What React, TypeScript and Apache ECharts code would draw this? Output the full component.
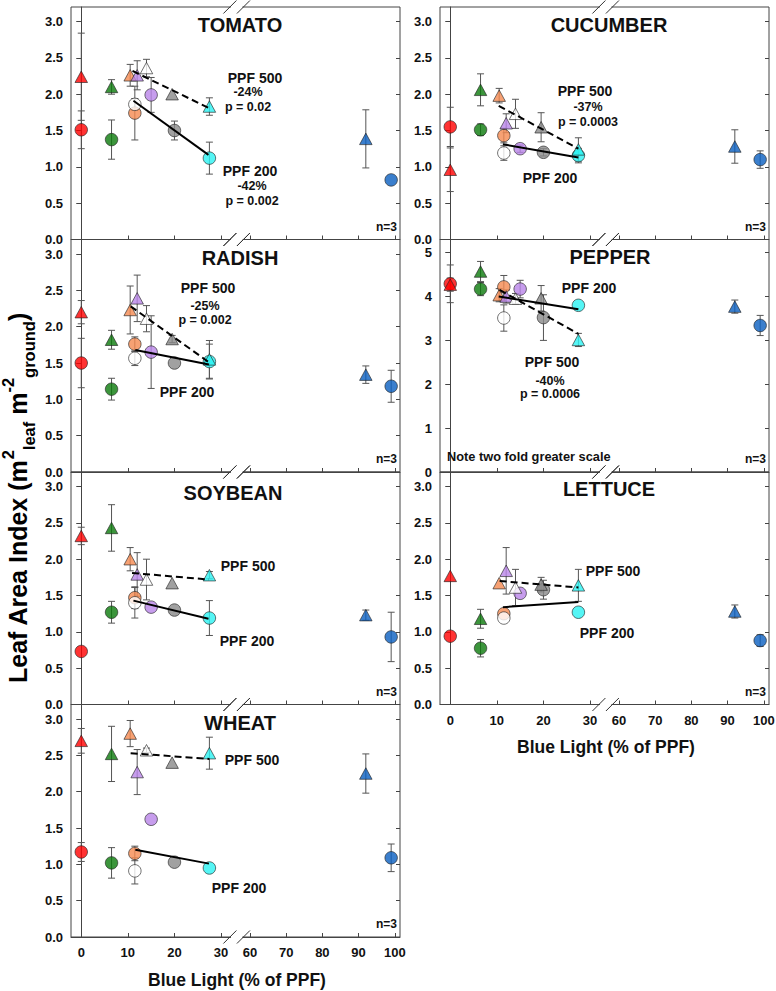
import React, { useEffect, useRef } from "react";
import * as echarts from "echarts";

const FONT = "'Liberation Sans', Arial, Helvetica, sans-serif";
const AXIS = "#444";
const INK = "#111";

// ---- broken x axis (0-30 | 60-100) ----
const BREAK_START = 36.2;
const RIGHT_SCALE = 0.777;
const dx = (x: number) => (x <= 30 ? x : BREAK_START + (x - 60) * RIGHT_SCALE);
const undx = (d: number) => (d <= 31 ? Math.round(d) : Math.round(60 + (d - BREAK_START) / RIGHT_SCALE));
const xTicks = [0, 10, 20, 30, 60, 70, 80, 90, 100];

// ---- treatments: triangles = PPF 500, circles = PPF 200 ----
const triColors = ["#ff0000", "#0b7a0b", "#f58a50", "#b985e8", "#ffffff", "#8a8a8a", "#2af2f2", "#0a5fc0"];
const triX = [0, 6.5, 10.5, 12, 14, 19.5, 27.5, 92];
const circColors = ["#ff0000", "#0b7a0b", "#f58a50", "#ffffff", "#b985e8", "#8a8a8a", "#2af2f2", "#0a5fc0"];
const circX = [0, 6.5, 11.5, 11.5, 15, 20, 27.5, 99];

// TOMATO
const tomatoTri = [2.24, 2.1, 2.26, 2.26, 2.36, 2.0, 1.83, 1.385];
const tomatoTriErr = [0.6, 0.1, 0.15, 0.2, 0.12, 0, 0.12, 0.4];
const tomatoCirc = [1.51, 1.375, 1.74, 1.86, 1.99, 1.5, 1.12, 0.82];
const tomatoCircErr = [0.26, 0.27, 0.37, 0.08, 0.24, 0.13, 0.22, 0];
const tomatoFit500 = [11, 2.32, 27.4, 1.81];
const tomatoFit200 = [11.2, 1.91, 27.3, 1.165];

// CUCUMBER
const cucumberTri = [0.96, 2.06, 1.98, 1.6, 1.73, 1.545, 1.24, 1.28];
const cucumberTriErr = [0.3, 0.22, 0.1, 0.13, 0.2, 0.2, 0.16, 0.23];
const cucumberCirc = [1.55, 1.51, 1.43, 1.19, 1.25, 1.2, 1.155, 1.1];
const cucumberCircErr = [0.27, 0.08, 0.1, 0.1, 0.05, 0.05, 0.1, 0.12];
const cucumberFit500 = [10.4, 1.84, 27.5, 1.25];
const cucumberFit200 = [11.3, 1.31, 27.5, 1.13];

// RADISH
const radishTri = [2.2, 1.82, 2.23, 2.39, 2.11, 1.83, 1.55, 1.34];
const radishTriErr = [0.16, 0.13, 0.33, 0.32, 0.18, 0.05, 0.26, 0.12];
const radishCirc = [1.5, 1.14, 1.76, 1.565, 1.65, 1.5, 1.52, 1.18];
const radishCircErr = [0.34, 0.15, 0.1, 0.1, 0.5, 0, 0.24, 0.22];
const radishFit500 = [10.6, 2.28, 27.4, 1.51];
const radishFit200 = [11.6, 1.68, 27.4, 1.48];

// PEPPER
const pepperTri = [4.27, 4.57, 4.03, 4.0, 3.95, 3.96, 3.01, 3.77];
const pepperTriErr = [0.15, 0.23, 0.15, 0.15, 0.12, 0.29, 0.15, 0.15];
const pepperCirc = [4.29, 4.17, 4.22, 3.51, 4.17, 3.52, 3.8, 3.34];
const pepperCircErr = [0.43, 0.15, 0.26, 0.3, 0.2, 0.52, 0, 0.23];
const pepperFit500 = [10.6, 4.15, 27.5, 3.15];
const pepperFit200 = [10.4, 4.0, 27.5, 3.71];

// SOYBEAN
const soybeanTri = [2.32, 2.43, 2.0, 1.79, 1.72, 1.67, 1.78, 1.23];
const soybeanTriErr = [0.12, 0.32, 0.16, 0.3, 0.28, 0, 0.05, 0.07];
const soybeanCirc = [0.73, 1.27, 1.47, 1.4, 1.34, 1.3, 1.19, 0.93];
const soybeanCircErr = [0, 0.15, 0.15, 0.21, 0, 0, 0.24, 0.34];
const soybeanFit500 = [10.9, 1.81, 27.4, 1.72];
const soybeanFit200 = [11.2, 1.43, 27.3, 1.18];

// LETTUCE
const lettuceTri = [1.77, 1.18, 1.67, 1.84, 1.61, 1.65, 1.64, 1.28];
const lettuceTriErr = [0, 0.13, 0, 0.32, 0.25, 0.1, 0.22, 0.09];
const lettuceCirc = [0.94, 0.775, 1.25, 1.19, 1.53, 1.58, 1.27, 0.88];
const lettuceCircErr = [0, 0.12, 0, 0, 0, 0.13, 0, 0.08];
const lettuceFit500 = [10.6, 1.7, 27.5, 1.61];
const lettuceFit200 = [11.3, 1.34, 27.5, 1.41];

// WHEAT
const wheatTri = [2.7, 2.52, 2.8, 2.27, 2.57, 2.4, 2.53, 2.25];
const wheatTriErr = [0.17, 0.38, 0.18, 0.31, 0.03, 0, 0.22, 0.27];
const wheatCirc = [1.17, 1.02, 1.15, 0.91, 1.62, 1.03, 0.95, 1.09];
const wheatCircErr = [0.13, 0.21, 0.1, 0.18, 0, 0, 0, 0.19];
const wheatFit500 = [10.6, 2.53, 27.5, 2.45];
const wheatFit200 = [11.6, 1.2, 27.4, 1.01];

const yTicksStd = [0, 0.5, 1, 1.5, 2, 2.5, 3];
const yTicksPepper = [0, 1, 2, 3, 4, 5];

// ---- layout ----
const COL_LEFT = [71, 440];
const ROW_TOP = [7, 239.5, 472, 704.5];
const PANEL_W = 329;
const PANEL_H = 232.5;
const X_MIN = -2.2;
const X_MAX = 68.4;

type Note = { t: string; x: number; y: number; s: number; a?: string };

const panels = [
  { name: "TOMATO", col: 0, row: 0, yMax: 3.2, yTicks: yTicksStd, dec: 1, tri: tomatoTri, triErr: tomatoTriErr, circ: tomatoCirc, circErr: tomatoCircErr, f500: tomatoFit500, f200: tomatoFit200, bottom: false,
    notes: [{ t: "TOMATO", x: 240, y: 25, s: 20 }, { t: "PPF 500", x: 255, y: 78, s: 14 }, { t: "-24%", x: 248, y: 92, s: 12.5 }, { t: "p = 0.02", x: 248, y: 107, s: 12.5 }, { t: "PPF 200", x: 250, y: 171, s: 14 }, { t: "-42%", x: 252, y: 186, s: 12.5 }, { t: "p = 0.002", x: 252, y: 201, s: 12.5 }] as Note[] },
  { name: "RADISH", col: 0, row: 1, yMax: 3.2, yTicks: yTicksStd, dec: 1, tri: radishTri, triErr: radishTriErr, circ: radishCirc, circErr: radishCircErr, f500: radishFit500, f200: radishFit200, bottom: false,
    notes: [{ t: "RADISH", x: 240, y: 258, s: 20 }, { t: "PPF 500", x: 208, y: 288, s: 14 }, { t: "-25%", x: 205, y: 306, s: 12.5 }, { t: "p = 0.002", x: 205, y: 320, s: 12.5 }, { t: "PPF 200", x: 187, y: 392, s: 14 }] as Note[] },
  { name: "SOYBEAN", col: 0, row: 2, yMax: 3.2, yTicks: yTicksStd, dec: 1, tri: soybeanTri, triErr: soybeanTriErr, circ: soybeanCirc, circErr: soybeanCircErr, f500: soybeanFit500, f200: soybeanFit200, bottom: false,
    notes: [{ t: "SOYBEAN", x: 233, y: 493, s: 20 }, { t: "PPF 500", x: 248, y: 566, s: 14 }, { t: "PPF 200", x: 247, y: 641, s: 14 }] as Note[] },
  { name: "WHEAT", col: 0, row: 3, yMax: 3.2, yTicks: yTicksStd, dec: 1, tri: wheatTri, triErr: wheatTriErr, circ: wheatCirc, circErr: wheatCircErr, f500: wheatFit500, f200: wheatFit200, bottom: true,
    notes: [{ t: "WHEAT", x: 240, y: 723, s: 20 }, { t: "PPF 500", x: 252, y: 760, s: 14 }, { t: "PPF 200", x: 239, y: 888, s: 14 }, { t: "Blue Light (% of PPF)", x: 237, y: 980, s: 17.5 }] as Note[] },
  { name: "CUCUMBER", col: 1, row: 0, yMax: 3.2, yTicks: yTicksStd, dec: 1, tri: cucumberTri, triErr: cucumberTriErr, circ: cucumberCirc, circErr: cucumberCircErr, f500: cucumberFit500, f200: cucumberFit200, bottom: false,
    notes: [{ t: "CUCUMBER", x: 609, y: 25, s: 20 }, { t: "PPF 500", x: 585, y: 91, s: 14 }, { t: "-37%", x: 588, y: 107, s: 12.5 }, { t: "p = 0.0003", x: 588, y: 122, s: 12.5 }, { t: "PPF 200", x: 550, y: 178, s: 14 }] as Note[] },
  { name: "PEPPER", col: 1, row: 1, yMax: 5.3, yTicks: yTicksPepper, dec: 0, tri: pepperTri, triErr: pepperTriErr, circ: pepperCirc, circErr: pepperCircErr, f500: pepperFit500, f200: pepperFit200, bottom: false,
    notes: [{ t: "PEPPER", x: 610, y: 257, s: 20 }, { t: "PPF 200", x: 589, y: 288, s: 14 }, { t: "PPF 500", x: 552, y: 362, s: 14 }, { t: "-40%", x: 550, y: 381, s: 12.5 }, { t: "p = 0.0006", x: 550, y: 394, s: 12.5 }, { t: "Note two fold greater scale", x: 447, y: 456, s: 12.8, a: "left" }] as Note[] },
  { name: "LETTUCE", col: 1, row: 2, yMax: 3.2, yTicks: yTicksStd, dec: 1, tri: lettuceTri, triErr: lettuceTriErr, circ: lettuceCirc, circErr: lettuceCircErr, f500: lettuceFit500, f200: lettuceFit200, bottom: true,
    notes: [{ t: "LETTUCE", x: 609, y: 489, s: 20 }, { t: "PPF 500", x: 613, y: 571, s: 14 }, { t: "PPF 200", x: 607, y: 633, s: 14 }, { t: "Blue Light (% of PPF)", x: 606, y: 747, s: 17.5 }] as Note[] },
];

function textEl(t: string, x: number, y: number, size: number, align = "center") {
  return {
    type: "text",
    x,
    y,
    z: 50,
    silent: true,
    style: {
      text: t,
      fill: INK,
      fontSize: size,
      fontWeight: "bold",
      fontFamily: FONT,
      align,
      verticalAlign: "middle",
      textAlign: align,
      textVerticalAlign: "middle",
    },
  };
}

export default function App() {
  const ref = useRef<HTMLDivElement>(null);

  useEffect(() => {
    const chart = echarts.init(ref.current!, null, { renderer: "svg" });
    const grid: any[] = [];
    const xAxis: any[] = [];
    const yAxis: any[] = [];
    const series: any[] = [];
    const graphic: any[] = [];

    panels.forEach((p, i) => {
      const left = COL_LEFT[p.col];
      const top = ROW_TOP[p.row];
      grid.push({ left, top, width: PANEL_W, height: PANEL_H, show: true, borderColor: AXIS, borderWidth: 1, containLabel: false, outerBoundsMode: "none" });
      xAxis.push({
        type: "value",
        gridIndex: i,
        min: X_MIN,
        max: X_MAX,
        axisLine: { show: true, lineStyle: { color: AXIS, width: 1 } },
        axisTick: { show: true, inside: true, length: 4, lineStyle: { color: AXIS }, customValues: xTicks.map(dx) },
        axisLabel: {
          show: p.bottom,
          customValues: xTicks.map(dx),
          formatter: (v: number) => String(undx(v)),
          margin: 9,
          color: INK,
          fontSize: 13,
          fontWeight: "bold",
          fontFamily: FONT,
        },
        splitLine: { show: false },
      });
      const fmt = (v: number) => v.toFixed(p.dec);
      yAxis.push({
        type: "value",
        gridIndex: i,
        position: "left",
        min: 0,
        max: p.yMax,
        axisLine: { show: true, lineStyle: { color: AXIS, width: 1 } },
        axisTick: { show: true, inside: false, length: 5, lineStyle: { color: AXIS }, customValues: p.yTicks },
        axisLabel: { customValues: p.yTicks, formatter: fmt, margin: 8, color: INK, fontSize: 13, fontWeight: "bold", fontFamily: FONT },
        splitLine: { show: false },
      });
      yAxis.push({
        type: "value",
        gridIndex: i,
        position: "right",
        min: 0,
        max: p.yMax,
        axisLine: { show: false },
        axisTick: { show: true, inside: true, length: 4, lineStyle: { color: AXIS }, customValues: p.yTicks },
        axisLabel: { show: false },
        splitLine: { show: false },
      });
      const yIdx = i * 2;

      const errSeries = (xs: number[], ys: number[], es: number[]) => ({
        type: "custom",
        xAxisIndex: i,
        yAxisIndex: yIdx,
        silent: true,
        z: 2,
        data: ys.map((v, k) => [dx(xs[k]), v, es[k]]),
        renderItem: (_params: any, api: any) => {
          const x = api.value(0);
          const y = api.value(1);
          const e = api.value(2);
          if (!e) return { type: "group", children: [] };
          const a = api.coord([x, y + e]);
          const b = api.coord([x, y - e]);
          const w = 3.5;
          const st = { stroke: "#555", lineWidth: 1 };
          return {
            type: "group",
            children: [
              { type: "line", shape: { x1: a[0], y1: a[1], x2: b[0], y2: b[1] }, style: st },
              { type: "line", shape: { x1: a[0] - w, y1: a[1], x2: a[0] + w, y2: a[1] }, style: st },
              { type: "line", shape: { x1: b[0] - w, y1: b[1], x2: b[0] + w, y2: b[1] }, style: st },
            ],
          };
        },
      });
      series.push(errSeries(circX, p.circ, p.circErr));
      series.push(errSeries(triX, p.tri, p.triErr));

      series.push({
        type: "scatter",
        xAxisIndex: i,
        yAxisIndex: yIdx,
        symbol: "circle",
        symbolSize: 12.5,
        z: 3,
        silent: true,
        data: p.circ.map((v, k) => ({ value: [dx(circX[k]), v], itemStyle: { color: circColors[k], borderColor: "#222", borderWidth: 0.8 } })),
      });
      series.push({
        type: "scatter",
        xAxisIndex: i,
        yAxisIndex: yIdx,
        symbol: "triangle",
        symbolSize: [12.5, 11.5],
        z: 4,
        silent: true,
        data: p.tri.map((v, k) => ({ value: [dx(triX[k]), v], itemStyle: { color: triColors[k], borderColor: "#222", borderWidth: 0.8 } })),
      });
      const fit = (f: number[], dashed: boolean) => ({
        type: "line",
        xAxisIndex: i,
        yAxisIndex: yIdx,
        symbol: "none",
        z: 5,
        silent: true,
        lineStyle: { color: "#000", width: 2, type: dashed ? [7, 4] : "solid" },
        data: [
          [dx(f[0]), f[1]],
          [dx(f[2]), f[3]],
        ],
      });
      series.push(fit(p.f500, true));
      series.push(fit(p.f200, false));

      p.notes.forEach((n) => graphic.push(textEl(n.t, n.x, n.y, n.s, n.a || "center")));
      graphic.push(textEl("n=3", left + PANEL_W - 3, top + PANEL_H - 13, 12, "right"));
    });

    // y-axis title with super/subscripts (starts at the bottom, reads upward)
    graphic.push({
      type: "text",
      x: 18,
      y: 683,
      rotation: Math.PI / 2,
      z: 50,
      silent: true,
      style: {
        text: "{a|Leaf Area Index (m}{sup|2}{sub|leaf}{a| m}{sup|-2}{sub|ground}{a|)}",
        align: "left",
        verticalAlign: "middle",
        textAlign: "left",
        textVerticalAlign: "middle",
        rich: {
          a: { fontSize: 25, fontWeight: "bold", fontFamily: FONT, fill: "#000", lineHeight: 38, verticalAlign: "middle" },
          sup: { fontSize: 16.5, fontWeight: "bold", fontFamily: FONT, fill: "#000", lineHeight: 16, verticalAlign: "top" },
          sub: { fontSize: 16.5, fontWeight: "bold", fontFamily: FONT, fill: "#000", lineHeight: 16, verticalAlign: "bottom" },
        },
      },
    });

    chart.setOption({ animation: false, grid, xAxis, yAxis, series, graphic });

    // axis-break marks, placed through the x scale
    const extra: any[] = [];
    panels.forEach((p, i) => {
      const top = ROW_TOP[p.row];
      const ys = [top, top + PANEL_H];
      const c1 = chart.convertToPixel({ xAxisIndex: i }, 31.9) as unknown as number;
      const c2 = chart.convertToPixel({ xAxisIndex: i }, 34.8) as unknown as number;
      ys.forEach((y) => {
        extra.push({ type: "rect", z: 60, silent: true, shape: { x: c1 + 1, y: y - 1.5, width: c2 - c1 - 2, height: 3 }, style: { fill: "#fff" } });
        [c1, c2].forEach((c) =>
          extra.push({ type: "line", z: 61, silent: true, shape: { x1: c - 6.5, y1: y + 6.5, x2: c + 6.5, y2: y - 6.5 }, style: { stroke: "#333", lineWidth: 1 } })
        );
      });
    });
    chart.setOption({ graphic: [...graphic, ...extra] });

    return () => chart.dispose();
  }, []);

  return <div ref={ref} style={{ position: "fixed", left: 0, top: 0, width: 776, height: 991, background: "#fff" }} />;
}
